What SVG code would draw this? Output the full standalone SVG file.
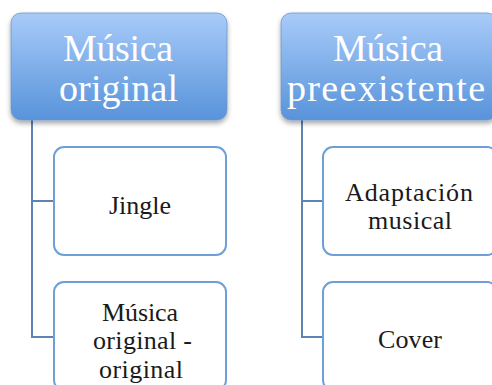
<svg xmlns="http://www.w3.org/2000/svg" width="492" height="385" viewBox="0 0 492 385">
<defs>
<linearGradient id="g" x1="0" y1="0" x2="0" y2="1">
<stop offset="0" stop-color="#a8cbf9"/>
<stop offset="1" stop-color="#5893da"/>
</linearGradient>
<filter id="sh" x="-10%" y="-10%" width="120%" height="130%">
<feDropShadow dx="0" dy="3" stdDeviation="2.5" flood-color="#000" flood-opacity="0.35"/>
</filter>
</defs>
<style>
.top{fill:url(#g);stroke:#6f97c8;stroke-width:0.8;filter:url(#sh)}
.child{fill:#fff;stroke:#6e9fd8;stroke-width:2}
.tt{font-family:"Liberation Serif","DejaVu Serif",serif;font-size:38px;fill:#fff;text-anchor:middle}
.ct{font-family:"Liberation Serif","DejaVu Serif",serif;font-size:26px;fill:#1a1a1a;text-anchor:middle}
.conn{fill:none;stroke:#5d84b4;stroke-width:2}
</style>
<rect width="492" height="385" fill="#fff"/>
<g id="connectors">
<path class="conn" d="M32,120 V337 H54 M32,201 H54"/>
<path class="conn" d="M302,120 V337 H323 M302,201 H323"/>
</g>
<g id="musica-original">
<rect class="top" x="11" y="13" width="216" height="107" rx="10"/>
<text class="tt" x="118" y="61" textLength="110">Música</text>
<text class="tt" x="118.5" y="101" textLength="119">original</text>
</g>
<g id="musica-preexistente">
<rect class="top" x="281" y="13" width="216" height="107" rx="10"/>
<text class="tt" x="388" y="61" textLength="110">Música</text>
<text class="tt" x="386" y="101" textLength="198">preexistente</text>
</g>
<g id="jingle">
<rect class="child" x="54" y="147" width="172" height="108" rx="10"/>
<text class="ct" x="140" y="214" textLength="62">Jingle</text>
</g>
<g id="musica-original-original">
<rect class="child" x="54" y="282" width="172" height="108" rx="10"/>
<text class="ct" x="140" y="321" textLength="76">Música</text>
<text class="ct" x="142.5" y="349" textLength="99">original -</text>
<text class="ct" x="141" y="378" textLength="84">original</text>
</g>
<g id="adaptacion-musical">
<rect class="child" x="323" y="147" width="174" height="108" rx="10"/>
<text class="ct" x="409" y="201" textLength="128">Adaptación</text>
<text class="ct" x="410" y="229" textLength="84">musical</text>
</g>
<g id="cover">
<rect class="child" x="323" y="282" width="174" height="108" rx="10"/>
<text class="ct" x="410" y="348" textLength="64">Cover</text>
</g>
</svg>
